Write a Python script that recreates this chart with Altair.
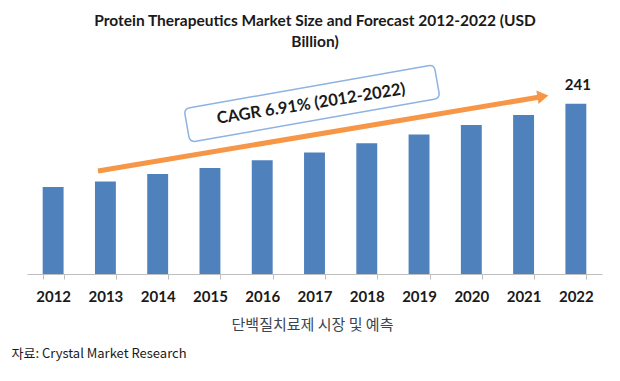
import altair as alt
import pandas as pd

years = ["2012", "2013", "2014", "2015", "2016", "2017", "2018", "2019", "2020", "2021", "2022"]
values = [123, 131, 141.5, 150, 161, 172, 185, 197.5, 211, 225, 241]
title_lines = ["Protein Therapeutics Market Size and Forecast 2012-2022 (USD", "Billion)"]
subtitle = "단백질치료제 시장 및 예측"
source = "자료: Crystal Market Research"
cagr_text = "CAGR 6.91% (2012-2022)"

df = pd.DataFrame({"year": years, "value": values})
one = pd.DataFrame({"k": [0]})

BAR = "#4F81BD"
ORANGE = "#F79646"
FONT = "Lato"
KFONT = "Noto Sans CJK KR"

x_enc = alt.X("year:O", sort=years, title=None,
              scale=alt.Scale(paddingInner=0.6, paddingOuter=0.3),
              axis=alt.Axis(labelAngle=0, labelFont=FONT, labelFontWeight="bold",
                            labelFontSize=15, labelColor="#1a1a1a",
                            domainColor="#BFBFBF", tickColor="#BFBFBF", tickSize=5,
                            tickBand="extent", labelPadding=17, labelBaseline="middle",
                            domainWidth=1, grid=False))
y_enc = alt.Y("value:Q", scale=alt.Scale(domain=[0, 300]), axis=None, title=None)

bars = alt.Chart(df).mark_bar(color=BAR).encode(x=x_enc, y=y_enc)

top_label = alt.Chart(df).transform_filter(alt.datum.year == "2022").mark_text(
    font=FONT, fontWeight="bold", fontSize=15, color="#1a1a1a",
    baseline="alphabetic", dy=-14, dx=2
).encode(x=alt.X("year:O", sort=years), y=alt.Y("value:Q", axis=None),
         text=alt.Text("value:Q", format="d"))

arrow_line = alt.Chart(one).mark_rule(color=ORANGE, strokeWidth=5, strokeCap="butt").encode(
    x=alt.value(71), y=alt.value(109), x2=alt.value(516), y2=alt.value(34.5))

arrow_head = alt.Chart(one).mark_point(
    shape="M 1 0 L -1 -1.25 L -1 1.25 Z", filled=True, color=ORANGE, opacity=1,
    size=121, angle=350.5, strokeWidth=0
).encode(x=alt.value(515.9), y=alt.value(34.4))

box_path = ("M -0.953 -0.134 L 0.953 -0.134 Q 1 -0.134 1 -0.087 L 1 0.087 "
            "Q 1 0.134 0.953 0.134 L -0.953 0.134 Q -1 0.134 -1 0.087 "
            "L -1 -0.087 Q -1 -0.134 -0.953 -0.134 Z")
box = alt.Chart(one).mark_point(
    shape=box_path, filled=False, fill="white", fillOpacity=1, stroke="#8DB3E2",
    strokeWidth=1.5, opacity=1, size=64516, angle=350
).encode(x=alt.value(285), y=alt.value(41.5))

box_text = alt.Chart(one).mark_text(
    font=FONT, fontWeight="bold", fontSize=16.5, color="#1a1a1a",
    angle=351, align="center", baseline="middle"
).encode(x=alt.value(284), y=alt.value(42), text=alt.value(cagr_text))

title1 = alt.Chart(one).mark_text(
    font=FONT, fontWeight="bold", fontSize=15.5, color="#1a1a1a",
    align="center", baseline="middle"
).encode(x=alt.value(288), y=alt.value(-41), text=alt.value(title_lines[0]))

title2 = alt.Chart(one).mark_text(
    font=FONT, fontWeight="bold", fontSize=15.5, color="#1a1a1a",
    align="center", baseline="middle"
).encode(x=alt.value(288), y=alt.value(-20), text=alt.value(title_lines[1]))

sub = alt.Chart(one).mark_text(
    font=KFONT, fontSize=15, color="#3b4552", align="center", baseline="middle"
).encode(x=alt.value(285.5), y=alt.value(263), text=alt.value(subtitle))

src = alt.Chart(one).mark_text(
    font=KFONT, fontSize=13, color="#1a1a1a", align="left", baseline="middle"
).encode(x=alt.value(-15.5), y=alt.value(292), text=alt.value(source))

chart = alt.layer(
    bars, top_label, arrow_line, arrow_head, box, box_text, title1, title2, sub, src
).properties(
    width=575, height=212,
    autosize=alt.AutoSizeParams(type="none"),
    padding={"left": 19, "top": 54, "right": 10, "bottom": 99},
    background="white",
).configure_view(stroke=None)

chart.save("out.html", embed_options={"renderer": "svg", "actions": False})
